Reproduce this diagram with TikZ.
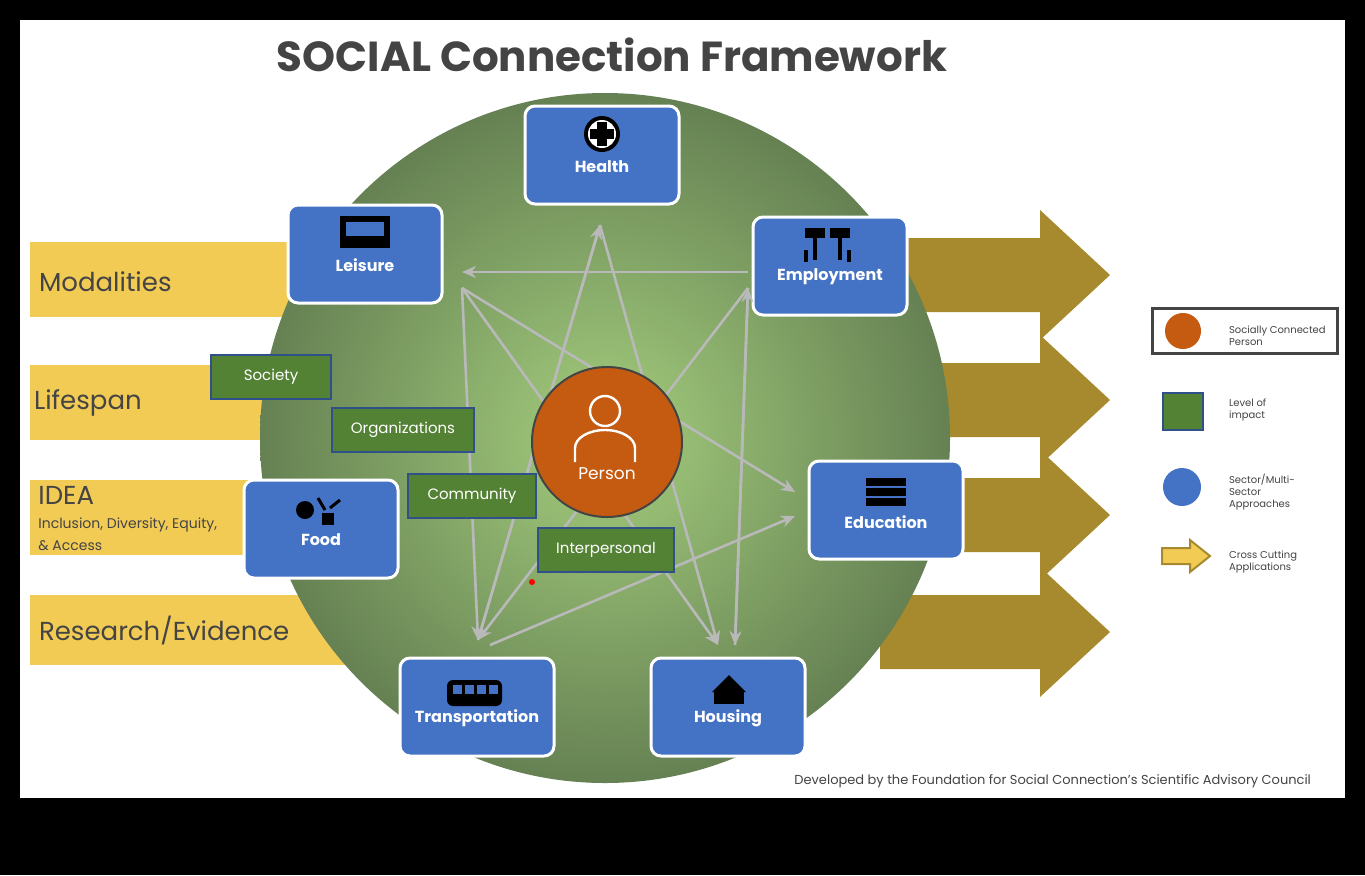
\documentclass[tikz,border=0pt]{standalone}
\usepackage{fontspec}
\setmainfont{Poppins}
\usetikzlibrary{shapes.arrows,arrows.meta,positioning}
\definecolor{boxblue}{HTML}{4472C4}
\definecolor{lvlgreen}{HTML}{548235}
\definecolor{persorange}{HTML}{C55A11}
\definecolor{modyellow}{HTML}{F2CB55}
\definecolor{crossgold}{HTML}{A88A2E}
\definecolor{titlegray}{HTML}{444444}
\tikzset{
  sector/.style={draw=white, line width=1.5pt, fill=boxblue, rounded corners=5pt,
    minimum width=77pt, minimum height=49pt, text=white, font=\bfseries\fontsize{8}{9}\selectfont},
  level/.style={draw=boxblue!70!black, line width=1.2pt, fill=lvlgreen,
    minimum height=22pt, text=white, font=\fontsize{7.5}{9}\selectfont},
  modality/.style={fill=modyellow, anchor=west, text=titlegray, font=\fontsize{13}{15}\selectfont},
  link/.style={draw=gray!55, line width=1.3pt, -{Stealth[length=7pt,width=6pt]}},
  legend/.style={anchor=west, align=left, text=titlegray, font=\fontsize{5}{6}\selectfont},
}
\begin{document}
\begin{tikzpicture}[x=0.5pt,y=-0.5pt]
    \useasboundingbox (0,0) rectangle (1365,875);
    \fill[black] (0,0) rectangle (1365,875);
    \fill[white] (20,20) rectangle (1345,798);

    % Title
    \node[font=\bfseries\fontsize{21}{24}\selectfont, text=titlegray] (title) at (612,55) {SOCIAL Connection Framework};

    % Cross cutting arrows on the right
    \foreach \yy in {275,400,515,632}
      \fill[crossgold] (880,\yy-37) -- (1040,\yy-37) -- (1040,\yy-65) -- (1110,\yy) -- (1040,\yy+65) -- (1040,\yy+37) -- (880,\yy+37) -- cycle;

    % Modality bands on the left
    \fill[modyellow] (30,242) rectangle (300,317);
    \fill[modyellow] (30,365) rectangle (300,440);
    \fill[modyellow] (30,480) rectangle (300,555);
    \fill[modyellow] (30,595) rectangle (360,665);
    \node[modality, fill=none] (mod) at (32,282) {Modalities};
    \node[modality, fill=none] (life) at (27,403) {Lifespan};
    \node[modality, fill=none, align=left, inner sep=2pt] (idea) at (34,518) {IDEA\\[-3pt]{\fontsize{7}{8}\selectfont Inclusion, Diversity, Equity,}\\[-4pt]{\fontsize{7}{8}\selectfont \& Access}};
    \node[modality, fill=none] (res) at (32,630) {Research/Evidence};

    % Big green circle
    \shade[inner color=green!35!lime!45!gray!70, outer color=lvlgreen!60!gray] (605,438) circle (345);

    % Sectors
    \node[sector] (health) at (602,155) {};
    \node[sector] (leisure) at (365,254) {};
    \node[sector] (employ) at (830,266) {};
    \node[sector] (educ) at (886,510) {};
    \node[sector] (food) at (321,529) {};
    \node[sector] (trans) at (477,707) {};
    \node[sector] (house) at (728,707) {};
    \node[white, font=\bfseries\fontsize{8}{9}\selectfont] at (602,167) {Health};
    \node[white, font=\bfseries\fontsize{8}{9}\selectfont] at (365,265) {Leisure};
    \node[white, font=\bfseries\fontsize{8}{9}\selectfont] at (830,277) {Employment};
    \node[white, font=\bfseries\fontsize{8}{9}\selectfont] at (886,522) {Education};
    \node[white, font=\bfseries\fontsize{8}{9}\selectfont] at (321,540) {Food};
    \node[white, font=\bfseries\fontsize{8}{9}\selectfont] at (477,718) {Transportation};
    \node[white, font=\bfseries\fontsize{8}{9}\selectfont] at (728,718) {Housing};

    % Icons
    \fill[black] (602,134) circle (18);
    \fill[white] (602,134) circle (14);
    \fill[black] (597,122) rectangle (607,146);
    \fill[black] (590,129) rectangle (614,139);
    \fill[black] (340,216) rectangle (390,248);
    \fill[boxblue] (346,222) rectangle (384,236);
    \foreach \xx in {350,360,370,380} \fill[black] (\xx,242) circle (4);
    \fill[black] (805,228) rectangle (825,238);
    \fill[black] (830,228) rectangle (850,238);
    \draw[black, line width=2pt] (815,238) -- (815,260) (840,238) -- (840,260) (806,250) -- (806,262) (849,250) -- (849,262);
    \foreach \yy in {478,488,498} \fill[black] (866,\yy) rectangle (906,\yy+8);
    \fill[black] (305,510) circle (9);
    \fill[black] (322,513) rectangle (334,525);
    \draw[black, line width=1.5pt] (318,498) -- (325,510) (330,508) -- (340,500);
    \fill[black, rounded corners=3pt] (447,680) rectangle (502,706);
    \foreach \xx in {453,465,477,489} \fill[boxblue] (\xx,685) rectangle (\xx+9,694);
    \fill[black] (712,692) -- (729,675) -- (746,692) -- cycle;
    \fill[black] (714,690) rectangle (744,704);

    % Links between sectors
    \coordinate (hB) at (600,225);
    \coordinate (lR) at (462,272);
    \coordinate (lR2) at (462,288);
    \coordinate (eL) at (748,272);
    \coordinate (eL2) at (748,288);
    \coordinate (edL) at (795,492);
    \coordinate (edL2) at (795,516);
    \coordinate (tT) at (478,640);
    \coordinate (tT2) at (490,645);
    \coordinate (hT) at (718,645);
    \coordinate (hT2) at (735,645);
    \draw[link, {Stealth[length=7pt,width=6pt]}-] (lR) -- (eL);
    \draw[link] (hB) -- (tT);
    \draw[link] (hB) -- (hT);
    \draw[link, {Stealth[length=7pt,width=6pt]}-] (hB) -- (tT);
    \draw[link] (lR2) -- (edL);
    \draw[link] (lR2) -- (hT);
    \draw[link] (eL2) -- (tT);
    \draw[link] (eL2) -- (hT2);
    \draw[link, {Stealth[length=7pt,width=6pt]}-] (eL2) -- (hT2);
    \draw[link] (tT2) -- (edL2);
    \draw[link] (lR2) -- (tT);

    % Levels of impact
    \node[level, minimum width=60pt] (soc) at (271,377) {Society};
    \node[level, minimum width=71pt] (org) at (403,430) {Organizations};
    \node[level, minimum width=64pt] (comm) at (472,496) {Community};
    \node[level, minimum width=68pt] (inter) at (606,550) {Interpersonal};
    \fill[red] (532,582) circle (3);

    % Person
    \node[circle, draw=titlegray, line width=1pt, fill=persorange, minimum size=75pt] (person) at (607,442) {};
    \node[white, font=\fontsize{8.5}{10}\selectfont] at (607,474) {Person};
    \draw[white, line width=1.2pt] (605,411) circle (15);
    \draw[white, line width=1.2pt] (575,462) -- (575,448) arc[start angle=180, end angle=360, x radius=30, y radius=18] -- (635,462);

    % Legend
    \draw[titlegray, line width=1.5pt] (1152,308) rectangle (1337,353);
    \fill[persorange] (1183,331) circle (18);
    \node[legend] (lg1) at (1222,336) {Socially Connected\\Person};
    \fill[lvlgreen, draw=boxblue!70!black, line width=1pt] (1163,393) rectangle (1203,430);
    \node[legend] (lg2) at (1222,410) {Level of\\impact};
    \fill[boxblue] (1182,487) circle (19);
    \node[legend] (lg3) at (1222,492) {Sector/Multi-\\Sector\\Approaches};
    \fill[modyellow, draw=crossgold, line width=1pt] (1162,548) -- (1190,548) -- (1190,540) -- (1210,556) -- (1190,572) -- (1190,564) -- (1162,564) -- cycle;
    \node[legend] (lg4) at (1222,562) {Cross Cutting\\Applications};

    % Footer
    \node[anchor=east, text=titlegray, font=\fontsize{6.5}{8}\selectfont] (foot) at (1318,781) {Developed by the Foundation for Social Connection's Scientific Advisory Council};
\end{tikzpicture}
\end{document}
